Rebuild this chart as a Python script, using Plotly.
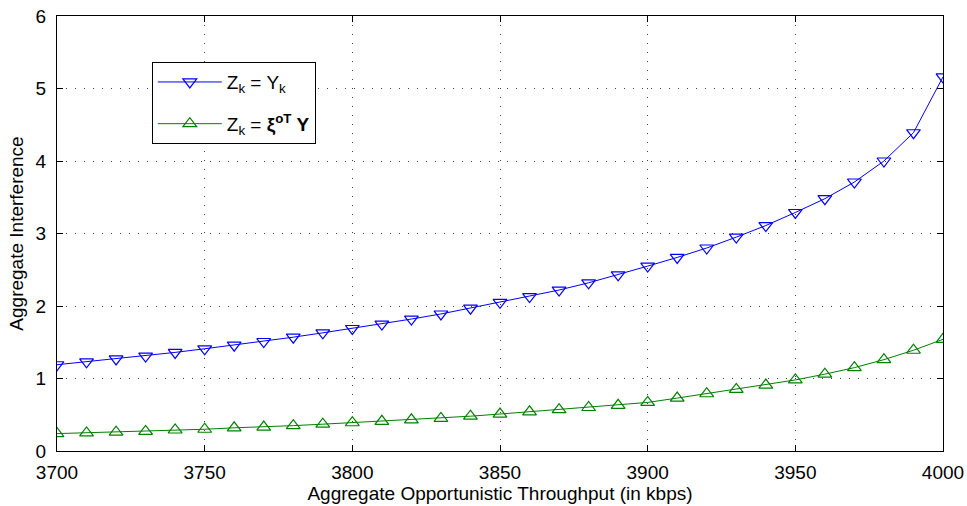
import plotly.graph_objects as go

throughput = [3700, 3710, 3720, 3730, 3740, 3750, 3760, 3770, 3780, 3790,
              3800, 3810, 3820, 3830, 3840, 3850, 3860, 3870, 3880, 3890,
              3900, 3910, 3920, 3930, 3940, 3950, 3960, 3970, 3980, 3990, 4000]
interference_y = [1.19, 1.23, 1.27, 1.31, 1.36, 1.41, 1.46, 1.51, 1.57, 1.63,
                  1.69, 1.75, 1.82, 1.89, 1.97, 2.05, 2.13, 2.22, 2.32, 2.43,
                  2.55, 2.67, 2.80, 2.95, 3.11, 3.29, 3.48, 3.71, 4.00, 4.39, 5.16]
interference_xi = [0.24, 0.25, 0.26, 0.27, 0.29, 0.30, 0.32, 0.33, 0.35, 0.37,
                   0.39, 0.41, 0.43, 0.45, 0.48, 0.51, 0.54, 0.57, 0.60, 0.63,
                   0.67, 0.73, 0.79, 0.85, 0.91, 0.98, 1.06, 1.15, 1.26, 1.39, 1.54]
x_ticks = [3700, 3750, 3800, 3850, 3900, 3950, 4000]
y_ticks = [0, 1, 2, 3, 4, 5, 6]

fig = go.Figure()
fig.add_trace(go.Scatter(
    x=throughput, y=interference_y, mode="lines+markers",
    name="Z<sub>k</sub> = Y<sub>k</sub>", legendgroup="a",
    line=dict(color="rgb(0,0,255)", width=1),
    marker=dict(symbol="triangle-down-open", size=12, color="rgb(0,0,255)", line=dict(width=1.2)),
))
fig.add_trace(go.Scatter(
    x=throughput, y=interference_xi, mode="lines+markers",
    name="Z<sub>k</sub> = <b>ξ<sup>oT</sup> Y</b>", legendgroup="b",
    line=dict(color="rgb(0,128,0)", width=1),
    marker=dict(symbol="triangle-up-open", size=12, color="rgb(0,128,0)", line=dict(width=1.2)),
))

axis_common = dict(
    showline=True, linecolor="black", linewidth=1, mirror="ticks",
    ticks="inside", ticklen=6, tickcolor="black",
    showgrid=True, gridcolor="rgba(0,0,0,0.75)", griddash="1px,8px", gridwidth=1,
    zeroline=False, tickfont=dict(size=19, color="black"), automargin=False,
)
fig.update_xaxes(range=[3700, 4000], tickvals=x_ticks, ticklabelstandoff=4,
                 title=dict(text="Aggregate Opportunistic Throughput (in kbps)", font=dict(size=19, color="black"), standoff=2),
                 **axis_common)
fig.update_yaxes(range=[0, 6], tickvals=y_ticks, ticklabelstandoff=6,
                 title=dict(text="Aggregate Interference", font=dict(size=19, color="black"), standoff=6),
                 **axis_common)

fig.update_layout(
    width=967, height=506,
    margin=dict(l=57, r=24, t=16, b=55),
    paper_bgcolor="white", plot_bgcolor="white",
    font=dict(family="Liberation Sans, Arial, sans-serif", color="black"),
    legend=dict(x=0.107, y=0.894, xanchor="left", yanchor="top",
                bgcolor="white", bordercolor="black", borderwidth=1,
                font=dict(size=19, color="black"), itemwidth=64,
                tracegroupgap=14),
    showlegend=True,
)

fig.write_html("out.html", config={"displayModeBar": False},
               post_script="document.body.style.margin='0';document.body.style.overflow='hidden';")
